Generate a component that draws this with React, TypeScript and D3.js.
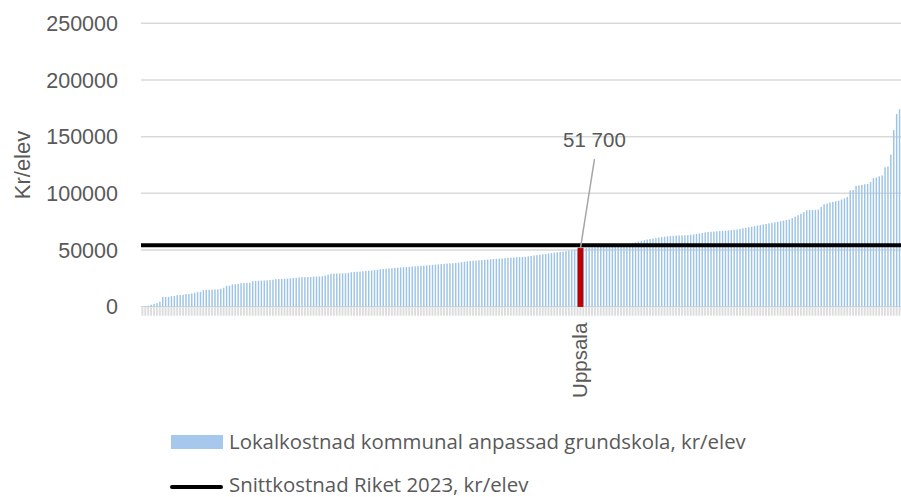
import React from 'react';
import * as d3 from 'd3';

// Sorted local cost per pupil (kr/elev), one value per municipality
const values: number[] = [
  300, 600, 900, 1700, 2600, 3200, 4400, 8500, 8600, 8700,
  9300, 9400, 10200, 10300, 10400, 11100, 11200, 11700, 12300, 12900,
  13200, 14600, 14900, 15000, 15100, 15200, 15300, 15800, 16700, 18400,
  18500, 19600, 19800, 20200, 20800, 20900, 21000, 21100, 22500, 22800,
  22900, 23000, 23100, 23300, 23500, 23800, 24300, 24400, 24500, 24700,
  24800, 25000, 25300, 25500, 25800, 26000, 26100, 26200, 26300, 26500,
  26600, 26700, 26800, 27500, 28200, 29000, 29100, 29200, 29300, 29400,
  29500, 29900, 30400, 30600, 30800, 31000, 31300, 31500, 31800, 32000,
  32300, 32600, 33000, 33300, 33500, 33800, 34000, 34200, 34400, 34600,
  34800, 35000, 35200, 35400, 35600, 35800, 36000, 36200, 36400, 36700,
  36900, 37100, 37300, 37600, 37800, 38000, 38200, 38300, 38600, 38900,
  39300, 39700, 40000, 40300, 40500, 40700, 40900, 41200, 41400, 41600,
  41800, 42000, 42200, 42400, 42600, 42800, 43000, 43200, 43400, 43600,
  43800, 43900, 44000, 44400, 44800, 45200, 45500, 45800, 46200, 46500,
  46900, 47300, 47700, 48000, 48300, 48600, 49000, 49400, 49800, 50200,
  50500, 51700, 52000, 52100, 52200, 52300, 52500, 52700, 52900, 53100,
  53300, 53500, 53800, 54100, 54400, 54700, 55000, 55300, 55700, 56200,
  56800, 57500, 58200, 58700, 59200, 59700, 60200, 60600, 61000, 61400,
  61800, 62100, 62300, 62500, 62700, 62800, 62900, 63000, 63100, 63400,
  63800, 64200, 64600, 65000, 65500, 65800, 66100, 66300, 66500, 66700,
  66900, 67100, 67300, 67600, 67900, 68100, 68600, 69100, 69600, 70100,
  70500, 71000, 71500, 72000, 72500, 73000, 73500, 73900, 74400, 74900,
  75400, 75900, 76400, 76900, 78200, 79500, 80700, 82000, 83500, 85000,
  85200, 85300, 85400, 85600, 88000, 90300, 91000, 92000, 92500, 93000,
  93500, 94500, 95500, 96700, 102600, 103000, 106700, 107000, 107500, 108000,
  108400, 110000, 113400, 114000, 115000, 115800, 123000, 123700, 134200, 155800,
  169900, 174200,
];

const averageValue = 54200;
const highlightIndex = 151;
const highlightName = 'Uppsala';
const highlightValueLabel = '51 700';
const yTicks: number[] = [0, 50000, 100000, 150000, 200000, 250000];
const yTitle = 'Kr/elev';
const legendBarLabel = 'Lokalkostnad kommunal anpassad grundskola, kr/elev';
const legendLineLabel = 'Snittkostnad Riket 2023, kr/elev';

const FONT = '"Liberation Sans", Arial, sans-serif';
const LEGEND_FONT = '"Open Sans", "Liberation Sans", sans-serif';
const TEXT = '#595959';

export default function App() {
  const W = 901;
  const H = 497;
  const left = 141;
  const right = 901;
  const top = 23.3;
  const bottom = 306.7;

  const idx = d3.range(values.length);
  const x = d3.scaleBand<number>().domain(idx).range([left, right]).paddingInner(0.5).paddingOuter(0.25);
  const y = d3.scaleLinear().domain([0, 250000]).range([bottom, top]);
  const step = x.step();

  const hx = (x(highlightIndex) as number) + x.bandwidth() / 2;
  const hy = y(values[highlightIndex]);

  return (
    <svg width={W} height={H} style={{ position: 'absolute', left: 0, top: 0, background: '#fff' }} fontFamily={FONT}>
      {/* gridlines */}
      {yTicks.map((t) => (
        <line key={'g' + t} x1={left} x2={right} y1={y(t)} y2={y(t)} stroke="#d9d9d9" strokeWidth={1.5} />
      ))}
      {/* y tick labels */}
      {yTicks.map((t) => (
        <text key={'t' + t} x={118} y={y(t)} dy="0.36em" textAnchor="end" fontSize={21.5} fill={TEXT}>
          {t}
        </text>
      ))}
      <text transform={`translate(30,${(top + bottom) / 2}) rotate(-90)`} textAnchor="middle" fontSize={22} fill={TEXT}>
        {yTitle}
      </text>
      {/* category tick band */}
      {idx.map((i) => (
        <rect key={'c' + i} x={(x(i) as number) - step * 0.1} y={bottom + 1} width={step * 0.65} height={8} fill="#dcdcdc" />
      ))}
      {/* bars */}
      {values.map((v, i) =>
        i === highlightIndex ? null : (
          <rect key={'b' + i} x={x(i) as number} y={y(v)} width={x.bandwidth()} height={bottom - y(v)} fill="#9dc3e6" />
        )
      )}
      {/* highlighted bar */}
      <rect x={hx - 2.5} y={hy} width={5} height={bottom - hy} fill="#c00000" stroke="#a00000" strokeWidth={0.6} />
      {/* average line */}
      <line x1={left} x2={right} y1={y(averageValue)} y2={y(averageValue)} stroke="#000" strokeWidth={4} />
      {/* annotation */}
      <line x1={hx} y1={hy} x2={hx + 14} y2={hy - 89} stroke="#a6a6a6" strokeWidth={1.5} />
      <text x={hx + 14} y={hy - 101} textAnchor="middle" fontSize={20.5} fill={TEXT}>
        {highlightValueLabel}
      </text>
      <text transform={`translate(${hx + 7},${bottom + 16}) rotate(-90)`} textAnchor="end" fontSize={20.5} fill={TEXT}>
        {highlightName}
      </text>
      {/* legend */}
      <rect x={171} y={435} width={52} height={14} fill="#a5c8ec" />
      <text x={229} y={449} fontSize={20.4} fill={TEXT} fontFamily={LEGEND_FONT}>
        {legendBarLabel}
      </text>
      <line x1={172} x2={221} y1={487} y2={487} stroke="#000" strokeWidth={4} strokeLinecap="round" />
      <text x={229} y={492} fontSize={20.4} fill={TEXT} fontFamily={LEGEND_FONT}>
        {legendLineLabel}
      </text>
    </svg>
  );
}
